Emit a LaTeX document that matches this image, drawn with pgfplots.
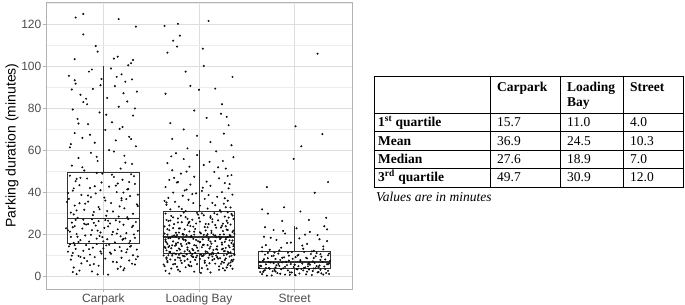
\documentclass[border=0pt]{standalone}
\usepackage{fontspec}
\setmainfont{Liberation Serif}
\newfontfamily\axfont{Liberation Sans}
\usepackage{pgfplots}
\pgfplotsset{compat=1.18}
\usepgfplotslibrary{statistics}
\definecolor{boxc}{HTML}{333333}
\definecolor{ticklab}{HTML}{4D4D4D}
\definecolor{gridmaj}{HTML}{DEDEDE}
\definecolor{gridmin}{HTML}{EDEDED}
\definecolor{borderc}{HTML}{B3B3B3}
\definecolor{dotc}{HTML}{4A4A4A}
\newcommand{\tf}{\fontsize{13.5}{15}\selectfont}
\begin{document}
\begin{tikzpicture}
\path[use as bounding box] (0pt,0pt) rectangle (685pt,305pt);
\begin{axis}[
  at={(46pt,16pt)}, anchor=south west, scale only axis,
  width=306pt, height=287pt,
  xmin=0.4, xmax=3.6, ymin=-5.85, ymax=130.6,
  xtick={1,2,3}, xticklabels={Carpark,Loading Bay,Street},
  ytick={0,20,...,120}, minor ytick={10,30,...,130},
  xmajorgrids, ymajorgrids, yminorgrids,
  major grid style={draw=gridmaj, line width=0.7pt},
  minor grid style={draw=gridmin, line width=0.5pt},
  axis line style={draw=borderc, line width=0.8pt},
  tick align=outside, major tick length=3pt, minor tick length=0pt,
  tick style={draw=borderc, line width=0.6pt},
  xtick pos=bottom, ytick pos=left,
  ticklabel style={font=\axfont\fontsize{12}{12}\selectfont, text=ticklab},
  /pgf/number format/assume math mode=true,
  yticklabel style={inner xsep=1.5pt},
  xticklabel style={inner ysep=2pt},
  ylabel={Parking duration (minutes)},
  every axis y label/.style={at={(axis description cs:-0.111,0.5)}, rotate=90, anchor=center, font=\axfont\fontsize{14}{14}\selectfont},
  boxplot/draw direction=y,
  boxplot/every median/.style={line width=1.5pt},
]
\addplot[boxplot prepared={draw position=1, lower whisker=0.8, lower quartile=15.7, median=27.6, upper quartile=49.7, upper whisker=100, box extend=0.75, whisker extend=0}, draw=boxc, line width=0.8pt, solid] coordinates {};
\addplot[boxplot prepared={draw position=2, lower whisker=1.6, lower quartile=11.0, median=18.9, upper quartile=30.9, upper whisker=60.2, box extend=0.75, whisker extend=0}, draw=boxc, line width=0.8pt, solid] coordinates {};
\addplot[boxplot prepared={draw position=3, lower whisker=0.5, lower quartile=4.0, median=7.0, upper quartile=12.0, upper whisker=24.0, box extend=0.75, whisker extend=0}, draw=boxc, line width=0.8pt, solid] coordinates {};
% Carpark
\addplot[only marks, mark=*, mark size=0.8pt, mark options={draw=none, fill=dotc}] coordinates {
(0.72,1.2)(1.05,1.0)(0.88,2.5)(1.21,3.1)(0.69,4.4)(0.95,5.2)(1.33,5.8)(0.77,6.3)(1.14,6.9)(0.83,7.4)
(1.27,7.7)(0.66,8.1)(1.02,8.6)(1.19,9.0)(0.91,9.3)(0.74,9.9)(1.31,10.2)(0.86,10.5)(1.08,10.9)(0.68,11.3)
(1.24,11.6)(0.97,12.0)(0.79,12.3)(1.12,12.6)(1.35,12.9)(0.71,13.2)(1.00,13.5)(0.89,13.8)(1.17,14.1)(0.64,14.4)
(1.29,14.7)(0.82,15.0)(1.06,15.2)(0.93,15.5)(1.22,4.0)(0.75,2.9)(1.10,7.1)(0.67,10.0)(1.36,9.6)(0.98,11.0)
(0.86,5.5)(1.25,13.0)(0.70,15.0)(1.15,3.8)(0.80,8.9)(1.03,14.9)(1.30,6.2)(0.94,1.1)(0.63,11.9)(1.19,12.2)
(0.69,16.0)(1.12,16.3)(0.85,16.7)(1.28,17.0)(0.76,17.4)(1.04,17.8)(0.93,18.1)(1.33,18.5)(0.66,18.9)(1.18,19.2)
(0.81,19.6)(1.09,20.0)(0.72,20.3)(1.24,20.7)(0.97,21.0)(0.65,21.4)(1.36,21.8)(0.88,22.1)(1.15,22.5)(0.78,22.9)
(1.01,23.2)(1.30,23.6)(0.70,24.0)(0.92,24.3)(1.21,24.7)(0.84,25.0)(1.07,25.3)(0.67,25.7)(1.34,26.0)(0.95,26.4)
(1.13,26.8)(0.79,27.1)(1.26,27.4)(0.74,16.5)(1.20,17.6)(0.99,18.8)(0.87,19.9)(1.32,20.1)(0.63,22.0)(1.05,23.9)
(0.90,25.6)(1.17,26.1)(0.71,27.0)(1.27,15.9)(0.82,24.8)(1.10,21.3)(0.96,19.4)(0.68,23.5)(1.23,18.2)(1.02,26.9)
(0.73,28.0)(1.16,28.6)(0.89,29.3)(1.31,29.9)(0.66,30.5)(1.04,31.2)(0.80,31.8)(1.22,32.5)(0.95,33.1)(0.70,33.8)
(1.35,34.4)(1.08,35.0)(0.84,35.7)(1.19,36.3)(0.64,37.0)(1.01,37.6)(1.28,38.3)(0.77,38.9)(0.92,39.6)(1.14,40.2)
(0.68,40.9)(1.25,41.5)(0.86,42.2)(1.06,42.8)(0.75,43.5)(1.33,44.1)(0.98,44.8)(0.71,45.4)(1.20,46.1)(0.83,46.7)
(1.11,47.4)(0.65,48.0)(1.29,48.7)(0.93,49.3)(1.03,29.0)(0.81,34.7)(1.24,36.9)(0.69,42.0)(1.13,43.3)(0.90,30.8)
(1.36,39.0)(0.76,47.0)(1.17,33.4)(0.97,41.1)(0.62,35.5)(1.27,45.0)(0.87,37.8)(1.09,48.5)(0.72,31.5)(1.21,40.0)
(0.80,50.5)(1.18,51.4)(0.67,52.8)(1.30,53.6)(0.94,55.0)(0.74,56.4)(1.22,57.5)(0.87,58.9)(1.06,60.2)(0.65,61.5)
(1.34,62.0)(0.91,63.7)(1.13,64.8)(0.78,66.0)(1.27,66.5)(0.70,68.3)(1.02,69.8)(1.20,71.2)(0.84,72.5)(1.09,73.4)
(0.73,75.0)(1.31,76.6)(0.96,78.1)(0.68,79.5)(1.16,80.8)(0.83,82.0)(1.25,83.3)(1.04,85.0)(0.76,86.5)(1.35,88.0)
(0.89,89.3)(1.12,90.6)(0.71,91.8)(1.23,92.7)(0.98,94.0)(0.64,95.5)(1.19,96.2)(0.85,97.5)(1.08,99.0)(1.29,101.5)
(0.79,83.0)(1.26,100.5)
(0.71,123.2)(0.79,124.9)(0.79,115.2)(1.16,122.5)(1.34,118.9)(0.92,109.7)(0.94,107.0)(1.15,104.6)(0.70,103.4)(1.31,103.0)(1.11,103.7)
(0.68,2.2)(1.18,4.8)(0.90,6.0)(1.34,8.3)(0.76,9.4)(1.07,11.5)(0.85,13.1)(1.28,14.3)(0.65,15.4)(1.00,16.8)
(1.21,18.0)(0.73,19.0)(1.14,20.5)(0.94,21.9)(0.61,23.0)(1.31,24.2)(0.80,25.2)(1.05,26.6)(0.88,27.3)(1.25,28.3)
(0.69,29.6)(1.10,31.0)(0.96,32.1)(1.36,33.6)(0.75,34.9)(1.02,36.2)(1.19,37.3)(0.84,38.6)(0.63,39.8)(1.26,41.7)
(0.91,43.0)(1.15,44.3)(0.72,46.5)(1.32,47.8)(0.99,49.0)(0.78,52.0)(1.23,54.2)(0.93,57.0)(1.11,59.5)(0.66,63.0)
(1.29,65.4)(0.86,67.5)(1.17,70.3)(0.74,72.8)(1.03,77.0)(1.33,80.0)(0.82,84.6)(1.21,87.2)(0.97,91.0)(0.70,93.4)
(1.14,95.0)(0.88,98.5)(1.30,93.8)(0.67,89.0)
};
% Loading Bay
\addplot[only marks, mark=*, mark size=0.8pt, mark options={draw=none, fill=dotc}] coordinates {
(1.69,1.5)(2.12,2.0)(1.95,2.4)(2.27,3.0)(1.78,3.3)(2.35,3.8)(2.03,4.1)(1.86,4.5)(2.21,4.9)(1.64,5.0)
(2.08,5.3)(2.30,5.6)(1.73,5.9)(1.98,6.0)(2.17,6.2)(1.82,6.5)(2.33,6.8)(1.91,7.0)(2.24,7.1)(1.67,7.4)
(2.06,7.6)(2.14,7.9)(1.75,8.0)(2.36,8.1)(1.88,8.3)(2.01,8.5)(2.28,8.7)(1.80,8.9)(2.10,9.0)(1.66,9.1)
(2.19,9.3)(1.93,9.5)(2.32,9.6)(1.84,9.8)(2.04,9.9)(1.83,10.0)(2.34,10.0)(1.92,10.0)(2.18,10.1)(1.68,10.2)
(2.11,10.3)(1.79,10.4)(2.29,10.5)(2.02,10.5)(1.87,10.6)(2.37,10.7)(1.76,10.8)(2.15,10.9)(2.07,11.0)(1.65,2.8)
(2.25,4.0)(1.90,5.1)(2.31,6.3)(1.81,7.7)(2.16,8.4)(1.97,9.2)(1.72,10.0)(2.26,6.7)(2.09,3.6)(1.63,5.8)
(2.22,8.8)(1.85,9.7)(2.05,10.3)(2.35,7.3)(1.77,4.7)(2.23,6.1)(1.94,9.4)(2.13,10.6)(1.70,8.2)
(1.74,11.1)(2.20,11.3)(1.96,11.4)(2.33,11.6)(1.69,11.8)(2.07,12.0)(1.85,12.0)(2.26,12.1)(1.99,12.3)(1.66,12.5)
(2.15,12.7)(1.80,12.9)(2.36,13.0)(1.93,13.2)(2.11,13.4)(1.71,13.5)(2.28,13.7)(1.88,13.9)(2.03,14.0)(1.64,14.2)
(2.19,14.4)(1.82,14.6)(2.31,14.8)(1.95,15.0)(2.09,15.0)(1.76,15.1)(2.24,15.3)(1.67,15.5)(2.13,15.7)(1.90,15.9)
(2.34,16.0)(1.78,16.2)(2.01,16.4)(2.27,16.6)(1.73,16.8)(2.17,17.0)(1.86,17.1)(2.32,17.3)(1.97,17.5)(1.65,17.7)
(2.22,17.9)(1.83,18.0)(2.10,18.2)(1.70,18.4)(2.29,18.6)(1.92,18.8)(2.14,11.5)(1.77,12.4)(2.25,13.3)(1.68,14.1)
(2.05,15.2)(1.89,16.1)(2.35,17.2)(1.79,18.1)(2.30,11.9)(1.98,13.8)(1.72,14.9)(2.12,16.7)(1.84,17.6)(2.23,18.5)
(1.94,12.6)(2.36,14.5)(1.66,16.3)(1.91,11.2)(2.18,13.1)(1.81,15.6)(2.04,17.8)(2.27,12.2)(1.75,14.7)(1.99,16.9)
(2.21,19.0)(1.72,19.2)(2.08,19.5)(1.87,19.7)(2.32,19.9)(1.95,20.0)(2.15,20.0)(1.67,20.0)(2.26,20.1)(1.83,20.3)
(2.02,20.6)(1.76,20.9)(2.35,21.2)(1.90,21.5)(2.13,21.8)(1.69,22.1)(2.29,22.4)(1.96,22.7)(1.80,23.0)(2.18,23.3)
(2.06,23.6)(1.64,23.9)(2.24,24.2)(1.88,24.5)(2.33,24.8)(1.74,25.0)(2.10,25.0)(1.97,25.3)(2.30,25.6)(1.82,25.9)
(2.01,26.2)(1.68,26.5)(2.20,26.8)(1.93,27.1)(2.36,27.4)(1.78,27.7)(2.12,28.0)(1.86,28.3)(2.27,28.6)(1.71,28.9)
(2.05,29.2)(1.99,29.5)(2.34,29.8)(1.65,30.0)(2.16,30.2)(1.84,30.5)(2.23,30.8)(1.92,19.4)(2.37,20.4)(1.79,21.0)
(2.07,22.0)(1.73,23.1)(2.28,24.0)(1.89,25.5)(2.14,26.0)(1.66,27.0)(2.31,28.1)(1.81,29.0)(2.03,30.1)(1.77,19.8)
(2.25,21.7)(1.94,23.8)(1.70,26.7)(2.19,29.6)(2.09,20.2)(1.85,22.5)(2.17,24.6)(2.00,27.9)(1.63,19.1)(2.30,30.6)
(1.86,31.2)(2.22,31.6)(1.70,32.0)(2.09,32.4)(2.33,32.9)(1.79,33.3)(2.01,33.8)(1.66,34.2)(2.26,34.7)(1.94,35.0)
(2.14,35.1)(1.75,35.6)(2.30,36.1)(1.89,36.6)(2.06,37.0)(1.68,37.5)(2.19,38.0)(1.83,38.5)(2.35,39.0)(1.97,39.6)
(1.73,40.0)(2.24,40.2)(2.03,40.8)(1.87,41.4)(2.31,42.0)(1.65,42.6)(2.12,43.2)(1.91,43.8)(2.27,44.5)(1.78,45.0)
(2.08,45.2)(1.69,46.0)(2.21,46.8)(1.95,47.5)(2.34,48.3)(1.81,49.0)(2.16,49.8)(1.72,50.6)(2.28,51.4)(1.90,52.3)
(2.05,53.1)(1.67,54.0)(2.25,55.0)(1.84,55.9)(2.36,56.8)(1.98,57.8)(1.76,58.7)(2.18,59.6)(2.28,33.0)(1.64,36.0)
(2.10,38.8)(1.85,41.0)(2.32,44.0)(1.74,47.0)(2.20,52.0)
(1.64,119.2)(1.78,120.2)(2.10,121.6)(1.80,114.6)(1.73,112.2)(1.67,106.5)(1.77,109.4)(2.04,108.4)(2.05,100.2)(1.86,97.5)
(2.35,95.0)(1.91,90.7)(1.65,87.0)(2.00,88.9)(2.17,89.4)(2.24,82.0)(1.95,79.0)(2.23,77.5)(2.29,76.0)(2.08,75.5)
(1.70,73.0)(2.31,72.0)(1.84,70.0)(2.26,68.0)(1.98,67.0)(1.72,65.5)(2.12,64.0)(2.34,62.5)(1.88,61.0)
(1.71,3.9)(2.29,4.4)(1.89,5.6)(2.11,6.4)(1.67,6.9)(2.34,7.8)(1.96,8.0)(2.20,8.6)(1.78,9.1)(2.03,9.9)
(1.63,10.1)(2.26,10.2)(1.93,10.8)(2.15,11.0)(1.81,11.1)(2.31,11.4)(1.70,11.7)(2.07,11.9)(1.88,12.8)(2.24,13.0)
(1.65,13.6)(2.12,14.3)(1.97,14.8)(2.36,15.4)(1.76,15.8)(2.01,16.5)(1.86,17.4)(2.28,17.8)(1.68,18.3)(2.18,18.7)
(1.91,19.0)(2.33,19.3)(1.74,19.6)(2.05,19.9)(2.22,20.0)(1.84,20.0)(1.64,20.5)(2.13,20.8)(1.95,21.4)(2.30,22.2)
(1.79,22.9)(2.09,23.5)(1.69,24.4)(2.25,25.2)(1.90,26.1)(2.14,27.3)(1.73,28.2)(2.35,29.1)(1.98,30.3)(1.82,32.2)
(2.17,34.0)(1.66,35.3)(2.27,37.3)(1.93,39.3)(2.04,42.3)(1.77,44.8)(2.30,47.9)(1.87,50.0)(2.11,54.6)(1.71,57.2)
(2.02,1.8)(1.80,2.5)(2.21,3.3)(1.92,5.0)(2.33,5.2)(1.75,6.1)(2.06,6.6)(1.85,7.5)(2.27,8.0)(1.66,8.5)
(2.14,9.6)(1.98,10.0)(2.37,10.4)(1.72,10.9)(2.09,11.6)(1.90,12.1)(2.19,12.9)(1.79,13.4)(2.32,14.0)(1.69,14.6)
(2.04,15.0)(1.87,15.5)(2.24,16.2)(1.65,16.9)(2.10,17.4)(1.94,18.0)(2.30,18.9)(1.76,19.1)(2.17,19.6)(1.83,20.2)
(2.01,21.1)(2.36,21.9)(1.67,22.6)(2.23,23.4)(1.91,24.1)(2.07,25.1)(1.78,25.8)(2.29,26.6)(1.88,27.5)(2.12,28.8)
};
% Street
\addplot[only marks, mark=*, mark size=0.8pt, mark options={draw=none, fill=dotc}] coordinates {
(2.71,0.5)(3.18,0.8)(2.90,1.0)(3.30,1.0)(2.66,1.2)(3.05,1.5)(2.82,1.7)(3.24,2.0)(2.97,2.0)(2.64,2.2)
(3.13,2.4)(2.77,2.6)(3.35,2.8)(2.93,3.0)(3.09,3.0)(2.69,3.1)(3.27,3.3)(2.86,3.5)(3.02,3.6)(2.74,3.8)
(3.20,3.9)(3.36,1.3)(2.80,2.5)(3.15,3.4)(2.95,0.9)(3.33,1.8)(2.68,2.9)(3.07,3.7)
(2.88,4.0)(3.22,4.0)(2.73,4.2)(3.11,4.4)(2.99,4.6)(3.31,4.8)(2.65,5.0)(3.04,5.0)(2.84,5.1)(3.26,5.3)
(2.92,5.5)(3.16,5.7)(2.70,5.9)(3.34,6.0)(2.96,6.0)(3.08,6.2)(2.78,6.4)(3.21,6.6)(2.87,6.8)(3.29,7.0)
(2.63,4.3)(3.14,4.9)(2.81,5.4)(3.00,5.8)(3.36,6.3)(2.75,6.7)(3.25,4.5)
(2.91,7.1)(3.19,7.3)(2.67,7.6)(3.06,7.9)(2.85,8.0)(3.32,8.2)(2.98,8.5)(2.72,8.8)(3.12,9.0)(2.89,9.2)
(3.28,9.5)(2.76,9.8)(3.03,10.0)(2.94,10.0)(3.35,10.2)(2.69,10.5)(3.17,10.8)(2.83,11.0)(3.23,11.2)(2.79,11.5)
(3.10,11.8)(2.66,12.0)(3.37,7.5)(2.80,8.4)(3.01,9.3)(3.27,10.7)(2.93,11.4)
(3.20,12.3)(2.74,12.8)(3.09,13.3)(2.86,13.8)(3.30,14.4)(2.70,15.0)(3.13,15.6)(2.96,16.2)(3.34,16.9)(2.81,17.5)
(3.05,18.2)(2.68,19.0)(3.24,19.8)(2.90,20.5)(3.16,21.3)(2.78,22.2)(3.02,23.0)(3.31,24.0)
(3.24,106.0)(3.01,71.5)(3.29,67.8)(3.07,62.0)(2.99,56.0)(3.35,45.0)(2.71,42.6)(3.21,39.9)(2.89,33.0)(2.66,32.0)
(3.06,31.0)(2.72,30.0)(3.33,28.0)(3.15,27.0)(2.87,26.5)
(2.76,0.6)(3.12,1.1)(2.85,1.4)(3.28,1.6)(2.95,2.1)(2.67,2.3)(3.19,2.7)(2.79,3.2)(3.03,3.5)(3.32,3.6)
(2.70,4.1)(3.10,4.2)(2.90,4.7)(3.23,5.0)(2.64,5.2)(3.00,5.6)(3.35,5.9)(2.83,6.1)(3.15,6.5)(2.73,6.9)
(3.06,7.2)(2.94,7.7)(3.27,8.0)(2.68,8.3)(3.13,8.7)(2.87,9.0)(3.22,9.7)(2.78,10.0)(3.04,10.4)(3.36,11.0)
(2.72,11.3)(2.97,11.7)(3.18,12.0)(2.84,12.5)(3.30,13.0)(2.66,14.0)(3.08,14.8)(2.92,16.0)(3.26,17.8)(2.75,18.5)
(3.11,20.0)(2.88,21.8)(3.34,22.5)(2.69,23.5)(3.01,0.7)(3.25,2.2)(2.80,4.4)(3.14,6.0)(2.63,7.0)(3.20,8.9)
};
\end{axis}
% table
\begin{scope}[line width=0.9pt]
\draw (374pt,229pt) rectangle (683pt,117.7pt);
\draw (374pt,191.7pt) -- (683pt,191.7pt);
\draw (374pt,173.3pt) -- (683pt,173.3pt);
\draw (374pt,155pt) -- (683pt,155pt);
\draw (374pt,136.7pt) -- (683pt,136.7pt);
\draw (490pt,229pt) -- (490pt,117.7pt);
\draw (560pt,229pt) -- (560pt,117.7pt);
\draw (623pt,229pt) -- (623pt,117.7pt);
\end{scope}
\begin{scope}[every node/.style={anchor=base west, inner sep=0pt, font=\tf}]
\node[font=\tf\bfseries] at (497pt,213pt) {Carpark};
\node[font=\tf\bfseries] at (567pt,213pt) {Loading};
\node[font=\tf\bfseries] at (567pt,198pt) {Bay};
\node[font=\tf\bfseries] at (630pt,213pt) {Street};
\node[font=\tf\bfseries] at (378pt,178.2pt) {1\textsuperscript{st} quartile};
\node[font=\tf\bfseries] at (378pt,159.7pt) {Mean};
\node[font=\tf\bfseries] at (378pt,141.4pt) {Median};
\node[font=\tf\bfseries] at (378pt,123pt) {3\textsuperscript{rd} quartile};
\node at (497pt,178.2pt) {15.7};
\node at (567pt,178.2pt) {11.0};
\node at (630pt,178.2pt) {4.0};
\node at (497pt,159.7pt) {36.9};
\node at (567pt,159.7pt) {24.5};
\node at (630pt,159.7pt) {10.3};
\node at (497pt,141.4pt) {27.6};
\node at (567pt,141.4pt) {18.9};
\node at (630pt,141.4pt) {7.0};
\node at (497pt,123pt) {49.7};
\node at (567pt,123pt) {30.9};
\node at (630pt,123pt) {12.0};
\node[font=\tf\itshape] at (376pt,103pt) {Values are in minutes};
\end{scope}
\end{tikzpicture}
\end{document}
